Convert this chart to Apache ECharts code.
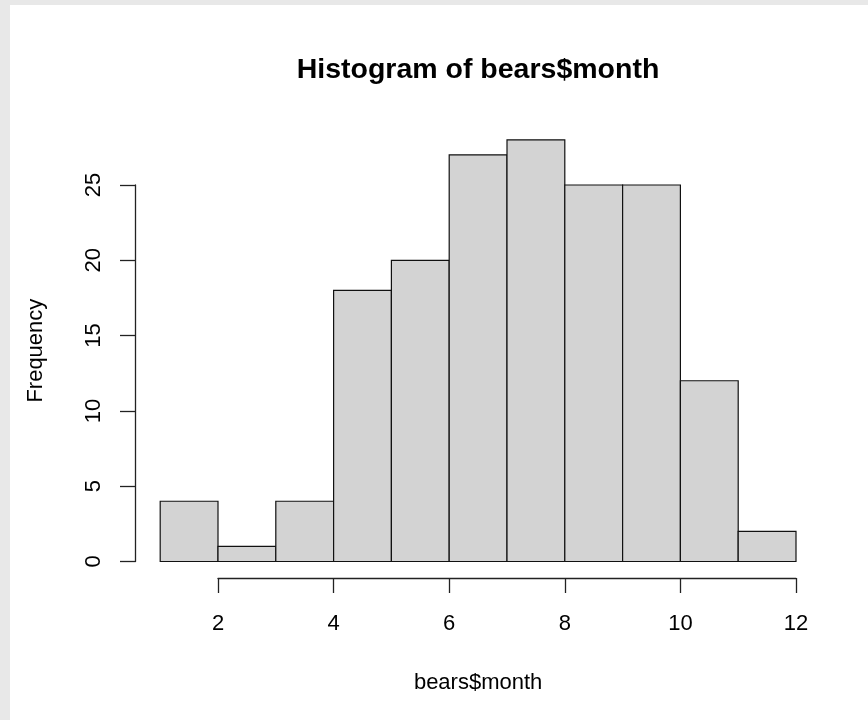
<!DOCTYPE html>
<html>
<head>
<meta charset="utf-8">
<script src="https://cdn.jsdelivr.net/npm/echarts@6/dist/echarts.min.js"></script>
<style>
html,body{margin:0;padding:0;background:#e8e8e8;}
#chart{width:868px;height:720px;}
</style>
</head>
<body>
<div id="chart"></div>
<script>
// Histogram data (bin edges and counts)
const binEdges = [1, 2, 3, 4, 5, 6, 7, 8, 9, 10, 11, 12];
const counts = [4, 1, 4, 18, 20, 27, 28, 25, 25, 12, 2];
const xTicks = [2, 4, 6, 8, 10, 12];
const yTicks = [0, 5, 10, 15, 20, 25];
const titleText = 'Histogram of bears$month';
const xLabel = 'bears$month';
const yLabel = 'Frequency';

const FONT = "'Liberation Sans', Arial, Helvetica, sans-serif";
const data = counts.map((c, i) => [binEdges[i], binEdges[i + 1], c]);

const chart = echarts.init(document.getElementById('chart'));
chart.setOption({
  backgroundColor: '#e8e8e8',
  animation: false,
  title: {
    text: titleText,
    left: 473, top: 51,
    textAlign: 'center',
    textStyle: {fontFamily: FONT, fontSize: 28.5, fontWeight: 'bold', color: '#000'}
  },
  graphic: [{
    type: 'rect', left: 10, top: 5, z: -100,
    shape: {width: 858, height: 715},
    style: {fill: '#ffffff'}
  }],
  grid: [
    {left: 160.2, top: 139.8, width: 635.8, height: 421.7},
    {left: 135, top: 185, width: 1, height: 376.5},
    {left: 218, top: 577, width: 578, height: 1}
  ],
  xAxis: [
    {
      gridIndex: 0, type: 'value', min: binEdges[0], max: binEdges[binEdges.length - 1],
      axisLine: {show: false}, axisTick: {show: false}, axisLabel: {show: false}, splitLine: {show: false},
      name: xLabel, nameLocation: 'middle', nameGap: 110,
      nameTextStyle: {fontFamily: FONT, fontSize: 22, color: '#000'}
    },
    {gridIndex: 1, type: 'value', show: false},
    {
      gridIndex: 2, type: 'value', position: 'bottom',
      min: xTicks[0], max: xTicks[xTicks.length - 1], interval: 2,
      axisLine: {show: true, onZero: false, lineStyle: {color: '#222', width: 1.3}},
      axisTick: {show: true, length: 15, inside: false, lineStyle: {color: '#222', width: 1.3}},
      axisLabel: {show: true, margin: 35, fontFamily: FONT, fontSize: 22, color: '#000', showMinLabel: true, showMaxLabel: true},
      splitLine: {show: false}
    }
  ],
  yAxis: [
    {
      gridIndex: 0, type: 'value', min: 0, max: 28,
      axisLine: {show: false}, axisTick: {show: false}, axisLabel: {show: false}, splitLine: {show: false},
      name: yLabel, nameLocation: 'middle', nameGap: 113, nameRotate: 90,
      nameTextStyle: {fontFamily: FONT, fontSize: 22, color: '#000'}
    },
    {
      gridIndex: 1, type: 'value', position: 'left',
      min: yTicks[0], max: yTicks[yTicks.length - 1], interval: 5,
      axisLine: {show: true, onZero: false, lineStyle: {color: '#222', width: 1.3}},
      axisTick: {show: true, length: 15, inside: false, lineStyle: {color: '#222', width: 1.3}},
      axisLabel: {show: true, rotate: 90, margin: 30, fontFamily: FONT, fontSize: 22, color: '#000', showMinLabel: true, showMaxLabel: true},
      splitLine: {show: false}
    },
    {gridIndex: 2, type: 'value', show: false}
  ],
  series: [{
    type: 'custom',
    xAxisIndex: 0, yAxisIndex: 0,
    clip: false,
    encode: {x: [0, 1], y: 2},
    data: data,
    renderItem: function (params, api) {
      const p0 = api.coord([api.value(0), 0]);
      const p1 = api.coord([api.value(1), api.value(2)]);
      return {
        type: 'rect',
        shape: {x: p0[0], y: p1[1], width: p1[0] - p0[0], height: p0[1] - p1[1]},
        style: {fill: '#d3d3d3', stroke: '#111', lineWidth: 1.2}
      };
    }
  }]
});
</script>
</body>
</html>
